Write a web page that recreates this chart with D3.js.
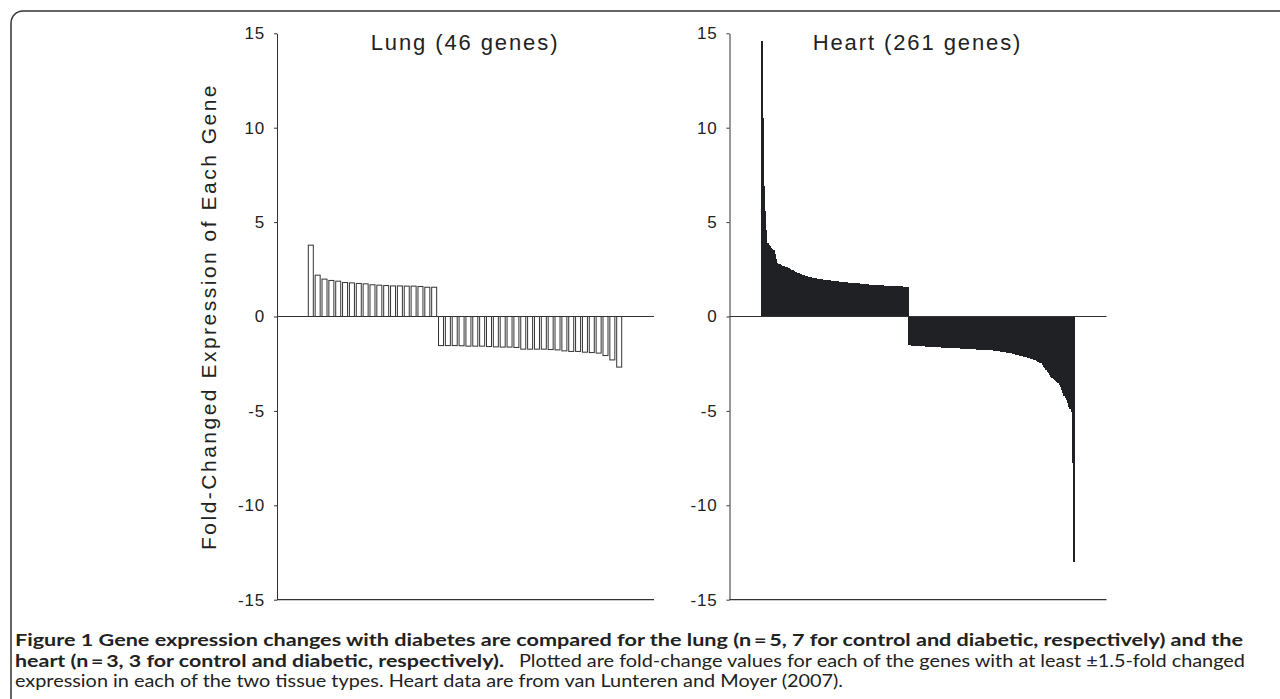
<!DOCTYPE html>
<html>
<head>
<meta charset="utf-8">
<script src="https://cdn.jsdelivr.net/npm/d3@7"></script>
<style>
  body { margin: 0; background: #fff; overflow: hidden; }
  svg text { font-family: Arial, "Liberation Sans", sans-serif; fill: #222; }
  svg text.caption { font-family: Lato, "Open Sans", sans-serif; font-size: 17px; }
</style>
</head>
<body>
<div id="chart"></div>
<script>
// fold-change values, sorted as plotted
const lungUp = [3.78, 2.19, 1.98, 1.91, 1.87, 1.80, 1.78, 1.75, 1.73, 1.68,
                1.66, 1.64, 1.62, 1.62, 1.61, 1.61, 1.59, 1.55, 1.55];
const lungDown = [-1.54, -1.54, -1.54, -1.55, -1.57, -1.57, -1.57, -1.59, -1.61, -1.62,
                  -1.62, -1.64, -1.73, -1.73, -1.73, -1.73, -1.75, -1.77, -1.82, -1.85,
                  -1.85, -1.89, -1.91, -1.94, -2.07, -2.30, -2.68];

const heartUp = [14.6, 10.5, 6.9, 5.6, 4.6, 3.9, 3.78, 3.72, 3.65, 3.55, 3.5,
                 3.3, 3.05, 2.85, 2.8, 2.76, 2.73, 2.7, 2.67, 2.65, 2.62,
                 2.6, 2.57, 2.55, 2.52, 2.48, 2.45, 2.42, 2.38, 2.35, 2.32,
                 2.29, 2.26, 2.23, 2.2, 2.18, 2.16, 2.14, 2.12, 2.1, 2.08,
                 2.07, 2.06, 2.05, 2.04, 2.03, 2.01, 2.0, 1.99, 1.97,
                 1.96, 1.95, 1.95, 1.94, 1.93, 1.92, 1.92, 1.91, 1.9, 1.9, 1.89, 1.88, 1.88, 1.87, 1.86, 1.85, 1.84,
                 1.83, 1.83, 1.82, 1.82, 1.81, 1.8, 1.8, 1.79, 1.79, 1.78, 1.77, 1.77, 1.76, 1.75,
                 1.75, 1.74, 1.73, 1.73, 1.72, 1.72, 1.71, 1.7, 1.7, 1.69, 1.69, 1.68, 1.68, 1.67,
                 1.67, 1.66, 1.66, 1.66, 1.65, 1.65, 1.65, 1.64, 1.64, 1.63, 1.63, 1.63, 1.62, 1.62,
                 1.62, 1.61, 1.61, 1.61, 1.6, 1.6, 1.6, 1.59, 1.59, 1.58, 1.58, 1.57, 1.56, 1.55];
const heartDown = [-1.52, -1.53, -1.54, -1.55, -1.55, -1.56, -1.56, -1.56, -1.57, -1.57,
                   -1.57, -1.58, -1.58, -1.58, -1.59, -1.59, -1.6, -1.6, -1.61, -1.61, -1.62,
                   -1.63, -1.63, -1.63, -1.64, -1.64, -1.64, -1.65, -1.65, -1.65, -1.66, -1.66, -1.66, -1.67, -1.67,
                   -1.67, -1.68, -1.68, -1.68, -1.68, -1.69, -1.69, -1.69, -1.7, -1.7, -1.7, -1.71, -1.71, -1.71, -1.72,
                   -1.72, -1.73, -1.73, -1.73, -1.74, -1.74, -1.75, -1.75, -1.75, -1.76, -1.76,
                   -1.77, -1.77, -1.77, -1.78, -1.78, -1.79, -1.79, -1.8, -1.8, -1.81, -1.81,
                   -1.82, -1.83, -1.84, -1.85, -1.86, -1.87, -1.88, -1.89, -1.9, -1.91, -1.92, -1.93, -1.94, -1.95,
                   -1.97, -1.98, -2.0, -2.02, -2.03, -2.05, -2.07, -2.08, -2.1, -2.12, -2.13,
                   -2.15, -2.17, -2.19, -2.21, -2.23, -2.25, -2.27, -2.3,
                   -2.33, -2.36, -2.39, -2.42, -2.45, -2.48,
                   -2.58, -2.66, -2.75, -2.83,
                   -2.92, -3.0, -3.09, -3.18, -3.27,
                   -3.33, -3.38, -3.44, -3.49, -3.54,
                   -3.63, -3.72, -3.9, -4.07, -4.2, -4.3, -4.42,
                   -4.6, -4.78, -4.9, -5.04, -7.78, -12.99];

const yTicks = [15, 10, 5, 0, -5, -10, -15];
const panelTitles = ['Lung (46 genes)', 'Heart (261 genes)'];
const yLabel = 'Fold-Changed Expression of Each Gene';
const captionBold1 = 'Figure 1 Gene expression changes with diabetes are compared for the lung (n\u2009=\u20095, 7 for control and diabetic, respectively) and the';
const captionBold2 = 'heart (n\u2009=\u20093, 3 for control and diabetic, respectively).';
const captionText2 = 'Plotted are fold-change values for each of the genes with at least \u00b11.5-fold changed';
const captionText3 = 'expression in each of the two tissue types. Heart data are from van Lunteren and Moyer (2007).';

const svgWidth = 1280,
      svgHeight = 699;

const svg = d3.select('#chart')
              .append('svg')
              .attr('width', svgWidth)
              .attr('height', svgHeight);

// frame round figure + caption (runs off the right and bottom edges)
svg.append('rect')
   .attr('x', 11).attr('y', 11)
   .attr('width', 1320).attr('height', 740)
   .attr('rx', 12)
   .attr('fill', 'none')
   .attr('stroke', '#333')
   .attr('stroke-width', 1.5);

const y = d3.scaleLinear()
            .domain([-15, 15])
            .range([599.7, 33.3]);

const panelWidth = 377;

const panels = [
  { title: panelTitles[0], values: lungUp.concat(lungDown), left: 277, filled: false },
  { title: panelTitles[1], values: heartUp.concat(heartDown), left: 729.5, filled: true }
];

panels.forEach(p => {
  const g = svg.append('g')
               .attr('transform', `translate(${p.left},0)`);

  const x = d3.scaleBand()
              .domain(d3.range(p.values.length))
              .range([31.3, 344.7])
              .paddingInner(p.filled ? 0 : 0.27);

  // bars
  const bars = g.append('g')
    .selectAll('rect')
    .data(p.values)
    .enter()
    .append('rect')
    .attr('x', (d, i) => x(i))
    .attr('y', d => Math.min(y(d), y(0)))
    .attr('width', p.filled ? x.bandwidth() + 0.6 : x.bandwidth())
    .attr('height', d => Math.abs(y(d) - y(0)))
    .attr('fill', p.filled ? '#202124' : '#fff')
    .attr('stroke', p.filled ? 'none' : '#333')
    .attr('stroke-width', 1);
  if (p.filled) bars.attr('shape-rendering', 'crispEdges');

  // y axis
  const yAxis = d3.axisLeft(y)
                  .tickValues(yTicks)
                  .tickFormat(d => String(d))
                  .tickSize(3)
                  .tickSizeOuter(0)
                  .tickPadding(9);
  const ax = g.append('g').call(yAxis);
  ax.select('.domain').attr('stroke', '#333');
  ax.selectAll('.tick line').attr('stroke', '#333');
  ax.selectAll('.tick text')
    .attr('font-size', 17)
    .attr('letter-spacing', 0.8)
    .attr('font-family', 'Arial, "Liberation Sans", sans-serif')
    .attr('fill', '#222');

  // zero line and bottom line
  [0, -15].forEach(v => {
    g.append('line')
      .attr('x1', 0).attr('x2', panelWidth)
      .attr('y1', y(v)).attr('y2', y(v))
      .attr('stroke', '#333')
      .attr('stroke-width', 1.2);
  });

  g.append('text')
    .attr('x', 188)
    .attr('y', 50)
    .attr('text-anchor', 'middle')
    .attr('font-size', 22)
    .attr('letter-spacing', 1.9)
    .text(p.title);
});

// y axis title
svg.append('text')
   .attr('transform', `translate(208,${y(0)}) rotate(-90)`)
   .attr('text-anchor', 'middle')
   .attr('dominant-baseline', 'central')
   .attr('font-size', 21)
   .attr('letter-spacing', 2.5)
   .text(yLabel);

// caption
const capLines = [
  { text: captionBold1, x: 15, y: 646, len: 1228, bold: true },
  { text: captionBold2, x: 15, y: 666.5, len: 489, bold: true },
  { text: captionText2, x: 519, y: 666.5, len: 726, bold: false },
  { text: captionText3, x: 15, y: 687, len: 828, bold: false }
];
svg.append('g')
   .selectAll('text')
   .data(capLines)
   .enter()
   .append('text')
   .attr('class', 'caption')
   .attr('x', d => d.x)
   .attr('y', d => d.y)
   .attr('font-weight', d => d.bold ? 'bold' : 'normal')
   .attr('fill', d => d.bold ? '#231f20' : '#4a4a4a')
   .attr('textLength', d => d.len)
   .attr('lengthAdjust', 'spacingAndGlyphs')
   .text(d => d.text);
</script>
</body>
</html>
